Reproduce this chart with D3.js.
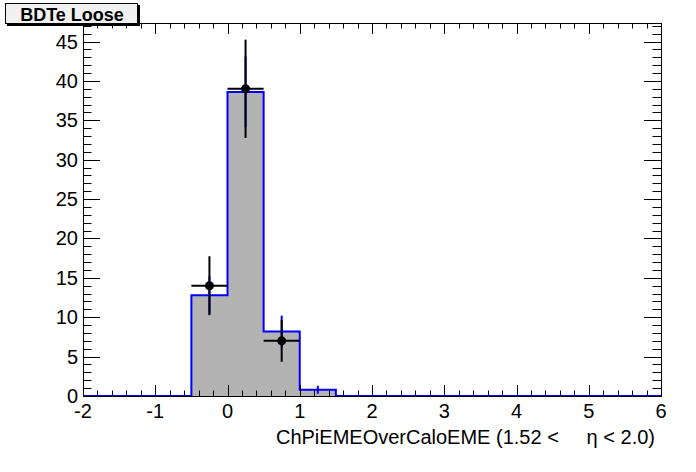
<!DOCTYPE html>
<html>
<head>
<meta charset="utf-8">
<script src="https://cdn.jsdelivr.net/npm/d3@7"></script>
<style>
  body { margin: 0; background: #fff; }
  text { font-family: "Liberation Sans", Arial, sans-serif; white-space: pre; }
</style>
</head>
<body>
<script>
// histogram bins from -2 to 6, width 0.5
var binEdges = [-2, -1.5, -1, -0.5, 0, 0.5, 1, 1.5, 2, 2.5, 3, 3.5, 4, 4.5, 5, 5.5, 6]
var histValues = [0, 0, 0, 12.8, 38.6, 8.2, 0.8, 0, 0, 0, 0, 0, 0, 0, 0, 0]
var histErrors = [0, 0, 0, 2.4, 4.5, 2.0, 0.5, 0, 0, 0, 0, 0, 0, 0, 0, 0]

// data points
var dataX = [-0.25, 0.25, 0.75]
var dataY = [14, 39, 7]
var dataErr = [3.74, 6.24, 2.65]

var xTicks = [-2, -1, 0, 1, 2, 3, 4, 5, 6]
var yTicks = [0, 5, 10, 15, 20, 25, 30, 35, 40, 45]

var width = 696, height = 472
var pLeft = 83, pRight = 661, pTop = 23, pBottom = 396

var svg = d3.select("body").append("svg")
  .attr("width", width)
  .attr("height", height)

var x = d3.scaleLinear().domain([-2, 6]).range([pLeft, pRight])
var y = d3.scaleLinear().domain([0, 47.35]).range([pBottom, pTop])

var bins = histValues.map(function(v, i){ return {x0: binEdges[i], x1: binEdges[i+1], v: v, e: histErrors[i]} })

// step points for fill and outline
var pts = []
bins.forEach(function(d){
  pts.push([x(d.x0), y(d.v)])
  pts.push([x(d.x1), y(d.v)])
})

// filled histogram
svg.append("path")
  .attr("d", d3.area().y0(y(0)).x(function(p){ return p[0] }).y1(function(p){ return p[1] })(pts))
  .style("fill", "#b3b3b3")

// histogram outline
svg.append("path")
  .attr("d", d3.line()(pts))
  .style("fill", "none")
  .style("stroke", "#0000ff")
  .style("stroke-width", 2)

// histogram errors
svg.append("g").selectAll("line")
  .data(bins.filter(function(d){ return d.e > 0 }))
  .enter().append("line")
    .attr("x1", function(d){ return x((d.x0 + d.x1) / 2) })
    .attr("x2", function(d){ return x((d.x0 + d.x1) / 2) })
    .attr("y1", function(d){ return y(d.v - d.e) })
    .attr("y2", function(d){ return y(d.v + d.e) })
    .style("stroke", "#0000ff")
    .style("stroke-width", 2)

// data points with errors
var pointsData = dataX.map(function(v, i){ return {x: v, y: dataY[i], e: dataErr[i]} })
var pg = svg.append("g")
pg.selectAll(".ey").data(pointsData).enter().append("line")
  .attr("x1", function(d){ return x(d.x) })
  .attr("x2", function(d){ return x(d.x) })
  .attr("y1", function(d){ return y(d.y - d.e) })
  .attr("y2", function(d){ return y(d.y + d.e) })
  .style("stroke", "#000").style("stroke-width", 2)
pg.selectAll(".ex").data(pointsData).enter().append("line")
  .attr("x1", function(d){ return x(d.x - 0.25) })
  .attr("x2", function(d){ return x(d.x + 0.25) })
  .attr("y1", function(d){ return y(d.y) })
  .attr("y2", function(d){ return y(d.y) })
  .style("stroke", "#000").style("stroke-width", 2)
pg.selectAll("circle").data(pointsData).enter().append("circle")
  .attr("cx", function(d){ return x(d.x) })
  .attr("cy", function(d){ return y(d.y) })
  .attr("r", 4.5)
  .style("fill", "#000")

// frame
svg.append("rect")
  .attr("x", pLeft + 0.5).attr("y", pTop + 0.5)
  .attr("width", pRight - pLeft).attr("height", pBottom - pTop)
  .style("fill", "none").style("stroke", "#000").style("stroke-width", 1)

// ticks
var xMinor = d3.range(-2, 6.001, 0.2)
var yMinor = d3.range(0, 47.3, 1)
var tg = svg.append("g").style("stroke", "#000").style("stroke-width", 1)
xMinor.forEach(function(v){
  var major = Math.abs(v - Math.round(v)) < 1e-6
  var len = major ? 11 : 5.5
  var px = Math.round(x(v)) + 0.5
  tg.append("line").attr("x1", px).attr("x2", px).attr("y1", pBottom).attr("y2", pBottom - len)
  tg.append("line").attr("x1", px).attr("x2", px).attr("y1", pTop).attr("y2", pTop + len)
})
yMinor.forEach(function(v){
  var major = v % 5 === 0
  var len = major ? 17 : 8.5
  var py = Math.round(y(v)) + 0.5
  tg.append("line").attr("x1", pLeft).attr("x2", pLeft + len).attr("y1", py).attr("y2", py)
  tg.append("line").attr("x1", pRight).attr("x2", pRight - len).attr("y1", py).attr("y2", py)
})

// tick labels
svg.append("g").selectAll("text").data(xTicks).enter().append("text")
  .attr("x", function(d){ return x(d) })
  .attr("y", 418)
  .attr("text-anchor", "middle")
  .style("font-size", "20px")
  .text(function(d){ return d })
svg.append("g").selectAll("text").data(yTicks).enter().append("text")
  .attr("x", 78)
  .attr("y", function(d){ return y(d) + 7 })
  .attr("text-anchor", "end")
  .style("font-size", "20px")
  .text(function(d){ return d })

// axis title
svg.append("text")
  .attr("x", 655)
  .attr("y", 444)
  .attr("text-anchor", "end")
  .style("font-size", "20px")
  .text("ChPiEMEOverCaloEME (1.52 <     η < 2.0)")

// title box
svg.append("rect").attr("x", 7).attr("y", 5).attr("width", 133).attr("height", 21).style("fill", "#000")
svg.append("rect").attr("x", 5.5).attr("y", 3.5).attr("width", 132).attr("height", 20)
  .style("fill", "#f0f0f0").style("stroke", "#000").style("stroke-width", 1)
svg.append("text")
  .attr("x", 72).attr("y", 20.5)
  .attr("text-anchor", "middle")
  .style("font-size", "18px").style("font-weight", "bold")
  .text("BDTe Loose")
</script>
</body>
</html>
